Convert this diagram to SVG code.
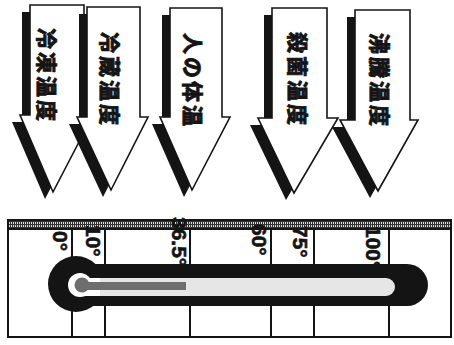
<svg xmlns="http://www.w3.org/2000/svg" width="454" height="345" viewBox="0 0 454 345">
<style>
.shadow{fill:#141414;}
.arrow{fill:#fff;stroke:#141414;stroke-width:1.6;stroke-linejoin:miter;}
.lab{font-family:"Noto Sans CJK JP","Noto Sans CJK SC",sans-serif;font-weight:700;font-size:21px;fill:#141414;stroke:#141414;stroke-width:0.9;letter-spacing:3px;dominant-baseline:central;}
.deg{font-family:"Liberation Sans",Arial,sans-serif;font-weight:700;font-size:21px;fill:#141414;stroke:#141414;stroke-width:0.6;}
.line{stroke:#141414;stroke-width:2;fill:none;}
</style>
<defs>
<pattern id="ruler" x="0" y="220" width="4" height="9" patternUnits="userSpaceOnUse">
<rect width="4" height="9" fill="#d8d8d8"/>
<path d="M0.5 0V9M2.5 0V9M0 1.5H4M0 4.5H4M0 7.5H4" stroke="#333" stroke-width="1"/>
</pattern>
</defs>
<rect width="454" height="345" fill="#fff"/>
<g id="connectors"/>
<g id="node-freeze">
<polygon class="shadow" transform="translate(-8,7)" points="30,5 84,5 84,115 93,115 53,192 20,115 30,115"/>
<polygon class="arrow" points="30,5 84,5 84,115 93,115 53,192 20,115 30,115"/>
<text class="lab" transform="translate(48,28) rotate(90)">冷凍温度</text>
</g>
<g id="node-fridge">
<polygon class="shadow" transform="translate(-8,7)" points="87,7 140,7 140,117 148,117 111,190 77,117 87,117"/>
<polygon class="arrow" points="87,7 140,7 140,117 148,117 111,190 77,117 87,117"/>
<text class="lab" transform="translate(111,32) rotate(90)">冷蔵温度</text>
</g>
<g id="node-body">
<polygon class="shadow" transform="translate(-8,7)" points="170,8 222,8 222,117 230,117 192,190 160,117 170,117"/>
<polygon class="arrow" points="170,8 222,8 222,117 230,117 192,190 160,117 170,117"/>
<text class="lab" transform="translate(194,33) rotate(90)">人の体温</text>
</g>
<g id="node-sterilize">
<polygon class="shadow" transform="translate(-8,7)" points="272,8 327,8 327,118 338,118 294,193 258,118 272,118"/>
<polygon class="arrow" points="272,8 327,8 327,118 338,118 294,193 258,118 272,118"/>
<text class="lab" transform="translate(299,32) rotate(90)">殺菌温度</text>
</g>
<g id="node-boil">
<polygon class="shadow" transform="translate(-8,7)" points="355,10 410,10 410,120 418,120 378,191 340,120 355,120"/>
<polygon class="arrow" points="355,10 410,10 410,120 418,120 378,191 340,120 355,120"/>
<text class="lab" transform="translate(381,33) rotate(90)">沸騰温度</text>
</g>
<g id="scale">
<rect x="8" y="220" width="443" height="9" fill="url(#ruler)"/>
<rect x="8" y="220" width="443" height="117" class="line"/>
<line class="line" x1="8" y1="229" x2="451" y2="229"/>
<path class="line" d="M72 229V337M105 229V337M190 229V337M271 229V337M314 229V337M389 229V337"/>
<text class="deg" transform="translate(53,231) rotate(90)">0°</text>
<text class="deg" transform="translate(86,225) rotate(90)">10°</text>
<text class="deg" transform="translate(172,217) rotate(90)">36.5°</text>
<text class="deg" transform="translate(252,224) rotate(90)">60°</text>
<text class="deg" transform="translate(293,226) rotate(90)">75°</text>
<text class="deg" transform="translate(366,226) rotate(90)">100°</text>
</g>
<g id="thermometer">
<rect x="70" y="264" width="358" height="42" rx="21" fill="#141414"/>
<circle cx="76" cy="284" r="28" fill="#141414"/>
<rect x="80" y="278" width="315" height="18" rx="9" fill="#e6e6e6"/>
<circle cx="80" cy="285" r="12" fill="#fff"/>
<rect x="80" y="278" width="20" height="18" fill="#fff"/>
<rect x="82" y="282" width="104" height="8" fill="#6e6e6e"/>
<circle cx="82" cy="285" r="7.5" fill="#6e6e6e"/>
</g>
</svg>
